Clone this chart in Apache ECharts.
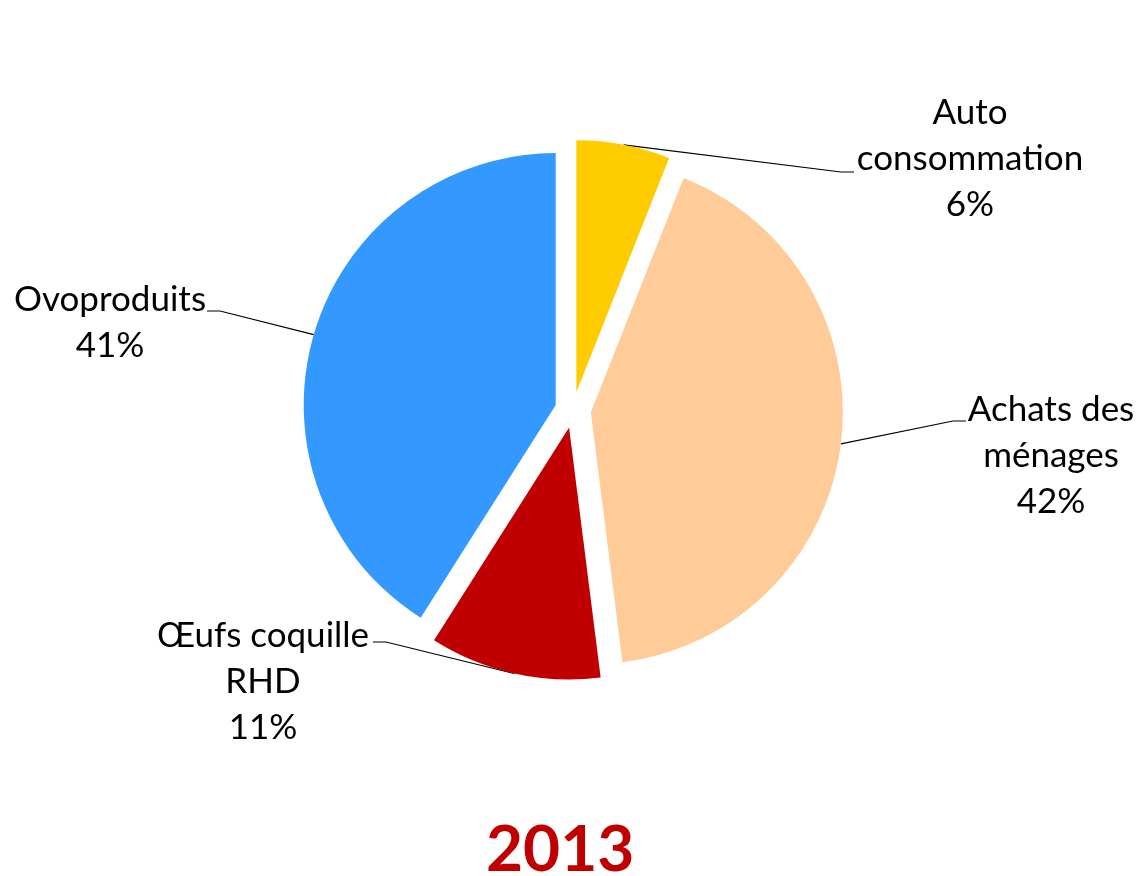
<!DOCTYPE html>
<html><head><meta charset="utf-8">
<script src="https://cdn.jsdelivr.net/npm/echarts@6/dist/echarts.min.js"></script>
<style>html,body{margin:0;padding:0;background:#fff}#chart{width:1138px;height:876px}</style>
</head><body><div id="chart"></div>
<script>
const categories = ['Auto\nconsommation', 'Achats des\nménages', 'Œufs coquille\nRHD', 'Ovoproduits'];
const values = [6, 42, 11, 41];
const colors = ['#FFCC00', '#FFCC99', '#C00000', '#3399FF'];
const titleText = '2013';

// layout (not data)
const CX = 573, CY = 410, R = 252, EXPLODE = 18;
const labelBoxes = [
  {x: 970, y: 159, ex: 854, ey: 172},
  {x: 1051, y: 456, ex: 966, ey: 421},
  {x: 263, y: 682, ex: 373, ey: 642},
  {x: 110, y: 323, ex: 207, ey: 311}
];
const FONT = 'Lato';

const total = values.reduce((a, b) => a + b, 0);
let cum = 0;
const mids = values.map(v => { const m = (cum + v / 2) / total * 2 * Math.PI; cum += v; return m; });

const series = values.map((v, i) => {
  const cx = CX + Math.sin(mids[i]) * EXPLODE;
  const cy = CY - Math.cos(mids[i]) * EXPLODE;
  return {
    type: 'pie', startAngle: 90, clockwise: true, radius: R, center: [cx, cy],
    avoidLabelOverlap: false, silent: true, animation: false,
    emphasis: {disabled: true},
    itemStyle: {borderWidth: 0},
    data: categories.map((name, j) => ({
      name, value: values[j],
      itemStyle: {color: j === i ? colors[j] : 'rgba(0,0,0,0)', borderWidth: 0},
      label: {show: j === i},
      labelLine: {show: j === i}
    })),
    label: {
      position: 'outside', formatter: '{b}\n{d}%', fontFamily: FONT, fontSize: 35,
      lineHeight: 46, color: '#000', align: 'center'
    },
    labelLine: {lineStyle: {color: '#000', width: 1.2}, smooth: false},
    labelLayout: function (p) {
      if (p.dataIndex !== i) return {};
      const b = labelBoxes[i];
      const sx = cx + Math.sin(mids[i]) * R, sy = cy - Math.cos(mids[i]) * R;
      const side = b.ex > sx ? 1 : -1;
      return {
        x: b.x, y: b.y, align: 'center', verticalAlign: 'middle',
        labelLinePoints: [[sx, sy], [b.ex - side * 13, b.ey], [b.ex, b.ey]]
      };
    }
  };
});

const chart = echarts.init(document.getElementById('chart'), null, {renderer: 'canvas'});
chart.setOption({
  backgroundColor: '#fff',
  animation: false,
  title: {
    text: titleText, left: 481, top: 813,
    textStyle: {fontFamily: FONT, fontWeight: 'bold', fontSize: 64, color: '#C00000'}
  },
  series: series
});
</script></body></html>
